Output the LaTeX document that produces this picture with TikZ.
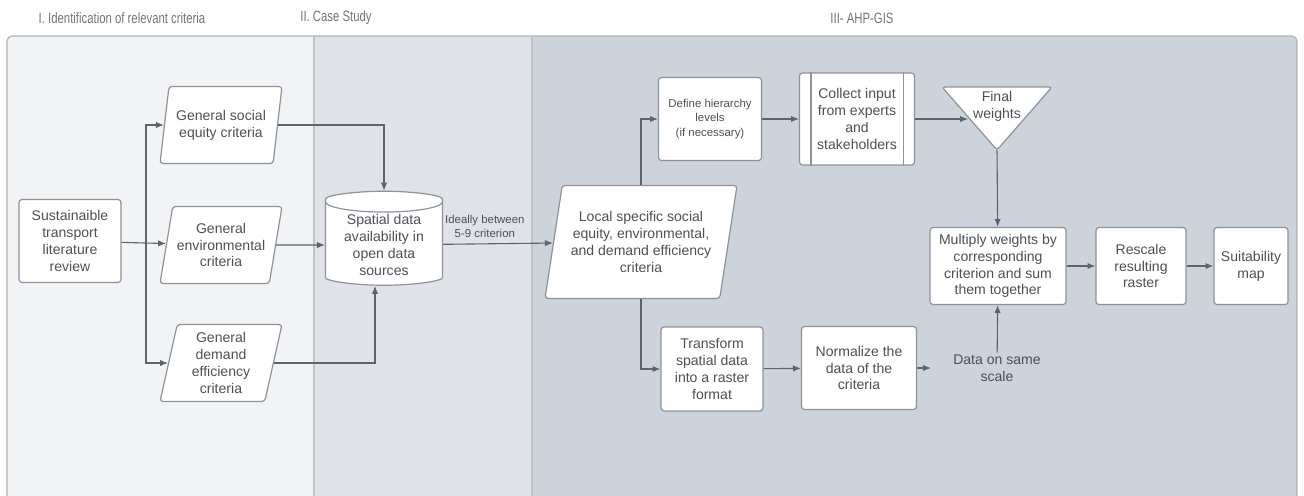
\documentclass[tikz,border=0pt]{standalone}
\usepackage{fontspec}
\setmainfont{Liberation Sans}
\newfontfamily\titlefont{Liberation Sans}[FakeStretch=0.76]
\usetikzlibrary{shapes.geometric,arrows.meta,positioning}
\newlength\px
\setlength\px{0.02cm}
\definecolor{laneA}{HTML}{F2F3F5}
\definecolor{laneB}{HTML}{DFE2E6}
\definecolor{laneC}{HTML}{CCD3DB}
\definecolor{laneline}{HTML}{AEB2B8}
\definecolor{boxline}{HTML}{8E939A}
\definecolor{wire}{HTML}{5E646C}
\definecolor{txtgray}{HTML}{4D5157}
\tikzset{
  box/.style={draw=boxline, fill=white, rounded corners=3\px, line width=1.2\px,
    text=txtgray, align=center, font=\fontsize{8}{9.6}\selectfont, inner sep=1pt},
  smalltxt/.style={font=\fontsize{6.5}{8}\selectfont},
  para/.style={box, trapezium, trapezium left angle=75, trapezium right angle=105,
    trapezium stretches body},
  store/.style={box, cylinder, shape border rotate=90, aspect=0.25},
  lanetitle/.style={text=txtgray!80, font=\titlefont\fontsize{8.5}{10}\selectfont},
  plain/.style={text=txtgray, align=center, font=\fontsize{8}{9.6}\selectfont, inner sep=1pt},
  flow/.style={draw=wire, line width=1.1\px, -{Latex[length=4.5pt,width=3.6pt]}}
}
\begin{document}
\begin{tikzpicture}[x=0.02cm, y=-0.02cm]
  \useasboundingbox (0,0) rectangle (1304,495);
  % lanes
  \begin{scope}
    \clip[rounded corners=5\px] (7,520) -- (7,36) -- (1297,36) -- (1297,520) -- cycle;
    \fill[laneA] (7,36) rectangle (314,520);
    \fill[laneB] (314,36) rectangle (532,520);
    \fill[laneC] (532,36) rectangle (1297,520);
  \end{scope}
  \draw[laneline, line width=1.1\px, rounded corners=5\px] (7,520) |- (1297,36) -- (1297,520);
  \draw[laneline!80, line width=1.1\px] (314,36) -- (314,520) (532,36) -- (532,520);
  \node[lanetitle] (titleA) at (122,18) {I. Identification of relevant criteria};
  \node[lanetitle] (titleB) at (336,18) {II. Case Study};
  \node[lanetitle] (titleC) at (862,18) {III- AHP-GIS};

  % I. criteria
  \node[box, minimum width=102\px, minimum height=83\px] (lit) at (70,241) {Sustainaible\\transport\\literature\\review};
  \node[para, minimum width=122\px, minimum height=77\px] (social) at (221,125) {General social\\equity criteria};
  \node[para, minimum width=122\px, minimum height=77\px] (env) at (221,245) {General\\environmental\\criteria};
  \node[para, minimum width=122\px, minimum height=77\px] (demand) at (221,363) {General\\demand\\efficiency\\criteria};
  \coordinate (split) at (146,245);

  % II. case study
  \node[store, minimum width=117\px, minimum height=94\px] (data) at (384,245) {Spatial data\\availability in\\open data\\sources};

  % III. AHP-GIS
  \node[para, minimum width=192\px, minimum height=113\px] (local) at (641,242) {Local specific social\\equity, environmental,\\and demand efficiency\\criteria};
  \node[box, smalltxt, minimum width=103\px, minimum height=83\px] (define) at (710,119) {Define hierarchy\\levels\\(if necessary)};
  \node[box, minimum width=115\px, minimum height=92\px] (collect) at (857,119) {Collect input\\from experts\\and\\stakeholders};
  \draw[boxline, line width=1.2\px] ([xshift=12\px]collect.north west) -- ([xshift=12\px]collect.south west)
    ([xshift=-12\px]collect.north east) -- ([xshift=-12\px]collect.south east);
  \draw[box] (942,87) coordinate (finalA) -- (1052,87) coordinate (finalB) -- (997,150) coordinate (finalC) -- cycle;
  \coordinate (finalin) at (968,119);
  \node[plain] (final) at (997,106) {Final\\weights};
  \node[box, minimum width=136\px, minimum height=77\px] (multiply) at (998,266) {Multiply weights by\\corresponding\\criterion and sum\\them together};
  \node[box, minimum width=90\px, minimum height=77\px] (rescale) at (1141,266) {Rescale\\resulting\\raster};
  \node[box, minimum width=74\px, minimum height=77\px] (suit) at (1251,266) {Suitability\\map};
  \node[box, minimum width=102\px, minimum height=84\px] (transform) at (712,369) {Transform\\spatial data\\into a raster\\format};
  \node[box, minimum width=115\px, minimum height=83\px] (normalize) at (859,368) {Normalize the\\data of the\\criteria};
  \node[plain] (scale) at (997,368) {Data on same\\scale};

  % connectors
  \draw[flow] (lit) -- (env);
  \draw[flow] (split) |- (social);
  \draw[flow] (split) |- (demand);
  \draw[flow] (social) -| (data);
  \draw[flow] (env) -- (data);
  \draw[flow] (demand) -| ([xshift=-9\px]data.south);
  \draw[flow] (data) -- node[pos=0.38, above, plain, smalltxt, inner sep=3pt] {Ideally between\\5-9 criterion} (local);
  \draw[flow] (local) |- (define);
  \draw[flow] (local) |- (transform);
  \draw[flow] (define) -- (collect);
  \draw[flow] (collect.east |- finalin) -- (finalin);
  \draw[flow] (finalC) -- (multiply);
  \draw[flow] (transform) -- (normalize);
  \draw[flow, shorten >=20\px] (normalize) -- (scale);
  \draw[flow] (scale) -- (multiply);
  \draw[flow] (multiply) -- (rescale);
  \draw[flow] (rescale) -- (suit);
\end{tikzpicture}
\end{document}
